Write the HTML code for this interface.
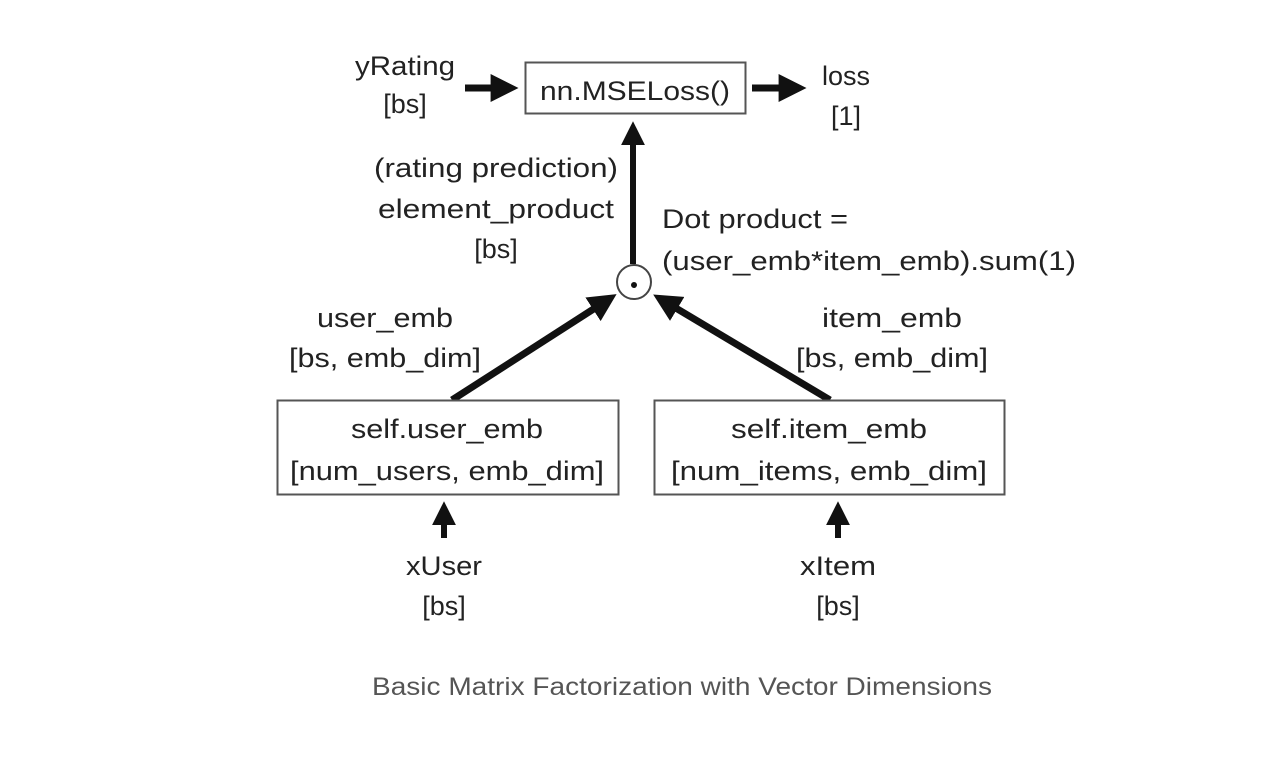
<!DOCTYPE html>
<html><head><meta charset="utf-8"><style>
html,body{margin:0;padding:0;background:#fff;width:1262px;height:772px;overflow:hidden}
svg text{font-family:"Liberation Sans",sans-serif;fill:#222}
</style></head><body>
<svg width="1262" height="772" viewBox="0 0 1262 772" xmlns="http://www.w3.org/2000/svg">
<defs>
<marker id="a" markerWidth="4" markerHeight="4" refX="2.2" refY="2" orient="auto" markerUnits="strokeWidth"><path d="M0,0 L4,2 L0,4 z" fill="#111"/></marker>
</defs>
<g font-size="27" text-anchor="middle">
<rect x="525.5" y="62.5" width="220" height="51" fill="#fff" stroke="#555" stroke-width="2"/>
<text x="635" y="100" textLength="190" lengthAdjust="spacingAndGlyphs">nn.MSELoss()</text>
<text x="405" y="75" textLength="100" lengthAdjust="spacingAndGlyphs">yRating</text>
<text x="405" y="113">[bs]</text>
<text x="846" y="85">loss</text>
<text x="846" y="125">[1]</text>
<line x1="465" y1="88" x2="506" y2="88" stroke="#111" stroke-width="7" marker-end="url(#a)"/>
<line x1="752" y1="88" x2="794" y2="88" stroke="#111" stroke-width="7" marker-end="url(#a)"/>
<line x1="633" y1="264" x2="633" y2="132" stroke="#111" stroke-width="6" marker-end="url(#a)"/>
<circle cx="634" cy="282" r="17" fill="#fff" stroke="#444" stroke-width="2"/>
<circle cx="634" cy="285" r="3" fill="#111"/>
<text x="496" y="177" textLength="244" lengthAdjust="spacingAndGlyphs">(rating prediction)</text>
<text x="496" y="218" textLength="236" lengthAdjust="spacingAndGlyphs">element_product</text>
<text x="496" y="258">[bs]</text>
<text x="662" y="228" text-anchor="start" textLength="186" lengthAdjust="spacingAndGlyphs">Dot product =</text>
<text x="662" y="270" text-anchor="start" textLength="414" lengthAdjust="spacingAndGlyphs">(user_emb*item_emb).sum(1)</text>
<line x1="452" y1="400" x2="606" y2="301" stroke="#111" stroke-width="7" marker-end="url(#a)"/>
<line x1="830" y1="400" x2="664" y2="301" stroke="#111" stroke-width="7" marker-end="url(#a)"/>
<text x="385" y="327" textLength="136" lengthAdjust="spacingAndGlyphs">user_emb</text>
<text x="385" y="367" textLength="192" lengthAdjust="spacingAndGlyphs">[bs, emb_dim]</text>
<text x="892" y="327" textLength="140" lengthAdjust="spacingAndGlyphs">item_emb</text>
<text x="892" y="367" textLength="192" lengthAdjust="spacingAndGlyphs">[bs, emb_dim]</text>
<rect x="277.5" y="400.5" width="341" height="94" fill="#fff" stroke="#555" stroke-width="2"/>
<rect x="654.5" y="400.5" width="350" height="94" fill="#fff" stroke="#555" stroke-width="2"/>
<text x="447" y="438" textLength="192" lengthAdjust="spacingAndGlyphs">self.user_emb</text>
<text x="447" y="480" textLength="314" lengthAdjust="spacingAndGlyphs">[num_users, emb_dim]</text>
<text x="829" y="438" textLength="196" lengthAdjust="spacingAndGlyphs">self.item_emb</text>
<text x="829" y="480" textLength="316" lengthAdjust="spacingAndGlyphs">[num_items, emb_dim]</text>
<line x1="444" y1="538" x2="444" y2="512" stroke="#111" stroke-width="6" marker-end="url(#a)"/>
<line x1="838" y1="538" x2="838" y2="512" stroke="#111" stroke-width="6" marker-end="url(#a)"/>
<text x="444" y="575" textLength="76" lengthAdjust="spacingAndGlyphs">xUser</text>
<text x="444" y="615">[bs]</text>
<text x="838" y="575" textLength="76" lengthAdjust="spacingAndGlyphs">xItem</text>
<text x="838" y="615">[bs]</text>
</g>
<text x="682" y="695" font-size="25" text-anchor="middle" style="fill:#555" textLength="620" lengthAdjust="spacingAndGlyphs">Basic Matrix Factorization with Vector Dimensions</text>
</svg>
</body></html>
